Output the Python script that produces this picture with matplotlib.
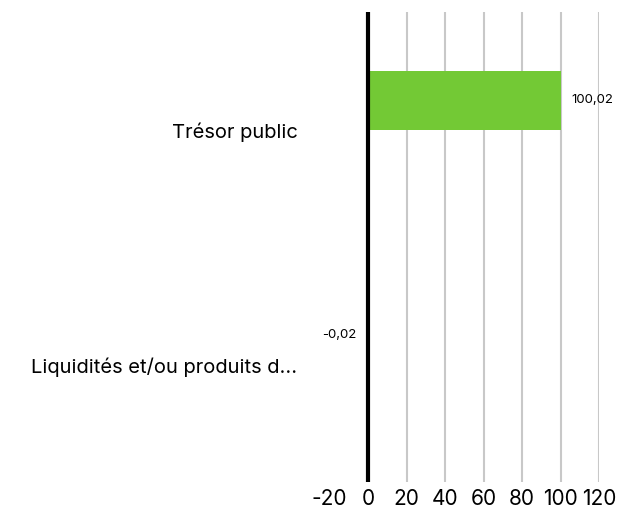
import matplotlib
matplotlib.use('Agg')
import matplotlib.pyplot as plt

matplotlib.rcParams['font.family'] = ['Inter', 'DejaVu Sans']

categories = ['Trésor public', 'Liquidités et/ou produits d...']
values = [100.02, -0.02]
value_labels = ['100,02', '-0,02']
xticks = [-20, 0, 20, 40, 60, 80, 100, 120]

fig = plt.figure(figsize=(6.21, 5.11), dpi=100)
ax = fig.add_axes([0.5306, 0.0568, 0.4340, 0.9197])

pos = list(range(len(categories)))
bar_pos = [p - 0.125 for p in pos]
ax.barh(bar_pos, values, height=0.25, color='#73c935', zorder=3)

ax.set_xlim(-20, 120)
ax.set_ylim(len(categories) - 0.5, -0.5)
ax.set_xticks(xticks)
ax.set_xticklabels([str(t) for t in xticks], fontsize=15)
ax.tick_params(axis='x', length=0, pad=5)
ax.set_yticks([])

for x in xticks:
    if x not in (-20, 0):
        ax.axvline(x, color='#c8c8c8', lw=1.5, zorder=1)
ax.axvline(0, color='black', lw=3, zorder=4)

for s in ax.spines.values():
    s.set_visible(False)

for p, v, lab in zip(bar_pos, values, value_labels):
    if v >= 0:
        ax.annotate(lab, (v, p), xytext=(8, 0), textcoords='offset points',
                    ha='left', va='center', fontsize=9.5)
    else:
        ax.annotate(lab, (0, p), xytext=(-8, 0), textcoords='offset points',
                    ha='right', va='center', fontsize=9.5)

for p, c in zip(pos, categories):
    ax.annotate(c, (-20, p), xytext=(-23, -2), textcoords='offset points',
                ha='right', va='center', fontsize=14.5, annotation_clip=False)

fig.savefig('out.png', dpi=100)
